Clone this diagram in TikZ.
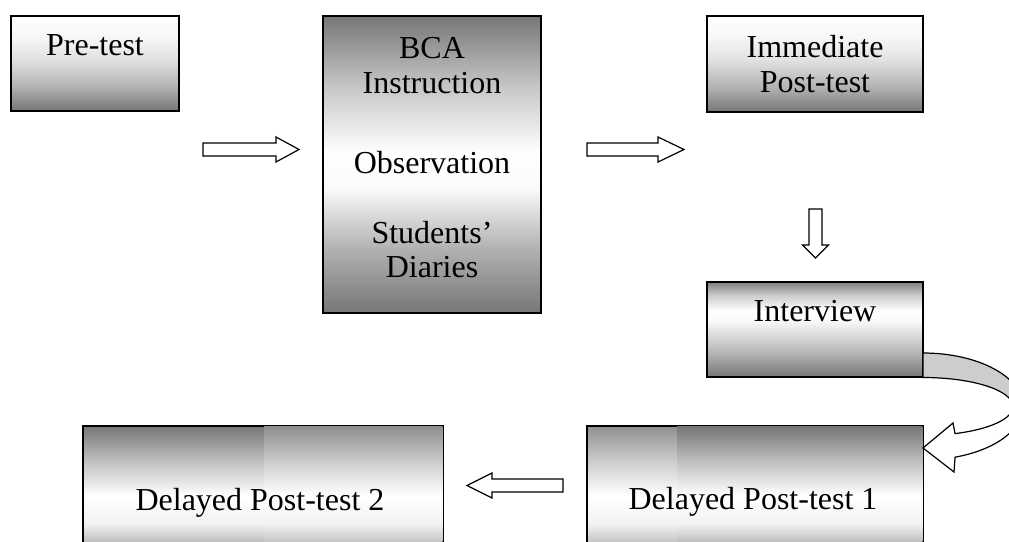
\documentclass[tikz,border=0pt]{standalone}
\usepackage{fontspec}
\setmainfont{Liberation Serif}
\usetikzlibrary{calc}

\definecolor{gdark}{HTML}{767676}
\definecolor{gmid}{HTML}{8F8F8F}
\definecolor{arrowgray}{HTML}{CDCDCD}

% top-light boxes (Pre-test, Immediate Post-test)
\pgfdeclareverticalshading{topbox}{100bp}{color(0bp)=(gdark); color(25bp)=(gdark); color(38bp)=(black!30); color(52bp)=(black!12); color(64bp)=(black!3); color(75bp)=(white); color(100bp)=(white)}
% reflected box (BCA)
\pgfdeclareverticalshading{midbox}{100bp}{color(0bp)=(gdark); color(25bp)=(gdark); color(36bp)=(black!30); color(46bp)=(black!2); color(52bp)=(white); color(63bp)=(black!22); color(75bp)=(gdark); color(100bp)=(gdark)}
% Interview
\pgfdeclareverticalshading{intbox}{100bp}{color(0bp)=(gdark); color(25bp)=(gdark); color(40bp)=(black!25); color(55bp)=(black!2); color(60bp)=(white); color(68bp)=(black!20); color(75bp)=(black!50); color(100bp)=(black!50)}
% bottom boxes
\pgfdeclareverticalshading{bdark}{100bp}{color(0bp)=(gdark); color(25bp)=(gdark); color(40bp)=(black!32); color(47bp)=(black!5); color(55bp)=(white); color(65bp)=(black!25); color(75bp)=(gdark); color(100bp)=(gdark)}
\pgfdeclareverticalshading{blight}{100bp}{color(0bp)=(gmid); color(25bp)=(gmid); color(40bp)=(black!28); color(47bp)=(black!5); color(55bp)=(white); color(65bp)=(black!20); color(75bp)=(gmid); color(100bp)=(gmid)}

\tikzset{
  box/.style={draw=black, line width=1.5pt, inner sep=0pt, outer sep=0pt, shade},
  txt/.style={inner sep=0pt, outer sep=0pt, anchor=base, font=\fontsize{32}{38}\selectfont},
  barrow/.style={draw=black, fill=white, line width=1.2pt, line join=miter},
  curvedarrow/.style={draw=black, line width=1.2pt, line join=miter}
}

\newcommand\blockarrow[4]{%
  \coordinate (hb) at ($(#2)!#3!(#1)$);
  \draw[barrow] ($(#1)!6.5pt!90:(#2)$) -- ($(hb)!6.5pt!90:(#2)$) -- ($(hb)!#4!90:(#2)$) -- (#2)
     -- ($(hb)!#4!-90:(#2)$) -- ($(hb)!6.5pt!-90:(#2)$) -- ($(#1)!6.5pt!-90:(#2)$) -- cycle;
}

\begin{document}
\begin{tikzpicture}[x=1pt,y=-1pt]
\useasboundingbox (0,0) rectangle (1009,541);
\clip (0,0) rectangle (1009,541);

% boxes
\node[box, shading=topbox, minimum width=168, minimum height=95] (pre) at (95,63.5) {};
\node[box, shading=midbox, minimum width=218, minimum height=297] (bca) at (432,164.5) {};
\node[box, shading=topbox, minimum width=216, minimum height=96] (imm) at (815,64) {};
\node[box, shading=intbox, minimum width=216, minimum height=95] (int) at (815,329.5) {};
\node[box, shading=blight, minimum width=336, minimum height=174] (d1) at (755,513) {};
\node[box, shading=bdark, minimum width=360, minimum height=174] (d2) at (263,513) {};
% tiled shading parts
\shade[shading=blight] ($(d2.north west)+(181,0.75)$) rectangle ($(d2.south east)+(-0.75,-0.75)$);
\shade[shading=bdark] ($(d1.north west)+(90,0.75)$) rectangle ($(d1.south east)+(-0.75,-0.75)$);

% texts
\node[txt] (preT) at (95,55) {Pre-test};
\node[txt] (bcaT1) at (432,58) {BCA};
\node[txt] (bcaT2) at (432,93) {Instruction};
\node[txt] (bcaT3) at (432,173) {Observation};
\node[txt] (bcaT4) at (432,243) {Students’};
\node[txt] (bcaT5) at (432,277) {Diaries};
\node[txt] (immT1) at (815,57) {Immediate};
\node[txt] (immT2) at (815,92) {Post-test};
\node[txt] (intT) at (815,321) {Interview};
\node[txt] (d1T) at (753,509) {Delayed Post-test 1};
\node[txt] (d2T) at (260,510) {Delayed Post-test 2};

% block arrows
\coordinate (a1s) at (203,149.5); \coordinate (a1e) at (299,149.5);
\coordinate (a2s) at (587,149.5); \coordinate (a2e) at (684,149.5);
\coordinate (a3s) at (815.5,209); \coordinate (a3e) at (815.5,258);
\coordinate (a4s) at (563,485.5); \coordinate (a4e) at (467,485.5);
\blockarrow{a1s}{a1e}{23pt}{12.5pt}
\blockarrow{a2s}{a2e}{26pt}{12.5pt}
\blockarrow{a3s}{a3e}{13pt}{13pt}
\blockarrow{a4s}{a4e}{25pt}{12.5pt}

% curved arrow from Interview to Delayed Post-test 1
\coordinate (cTop) at ($(int.south east)+(0,-24)$);
\coordinate (cR) at (1023,406.5);
\coordinate (cTip) at ($(d1.north east)+(0,22)$);
\draw[curvedarrow, fill=arrowgray] (cTop) arc[start angle=90, end angle=0, x radius=100pt, y radius=53.5pt]
   -- ++(-10,0) arc[start angle=0, end angle=90, x radius=90pt, y radius=29pt] -- cycle;
\draw[curvedarrow, fill=white] (cR) arc[start angle=0, end angle=-71.3, x radius=100pt, y radius=53.5pt]
   -- (954,472) -- (cTip) -- (953,423) -- (955,433.6)
   arc[start angle=-69.2, end angle=0, x radius=90pt, y radius=29pt] -- cycle;
\end{tikzpicture}
\end{document}
